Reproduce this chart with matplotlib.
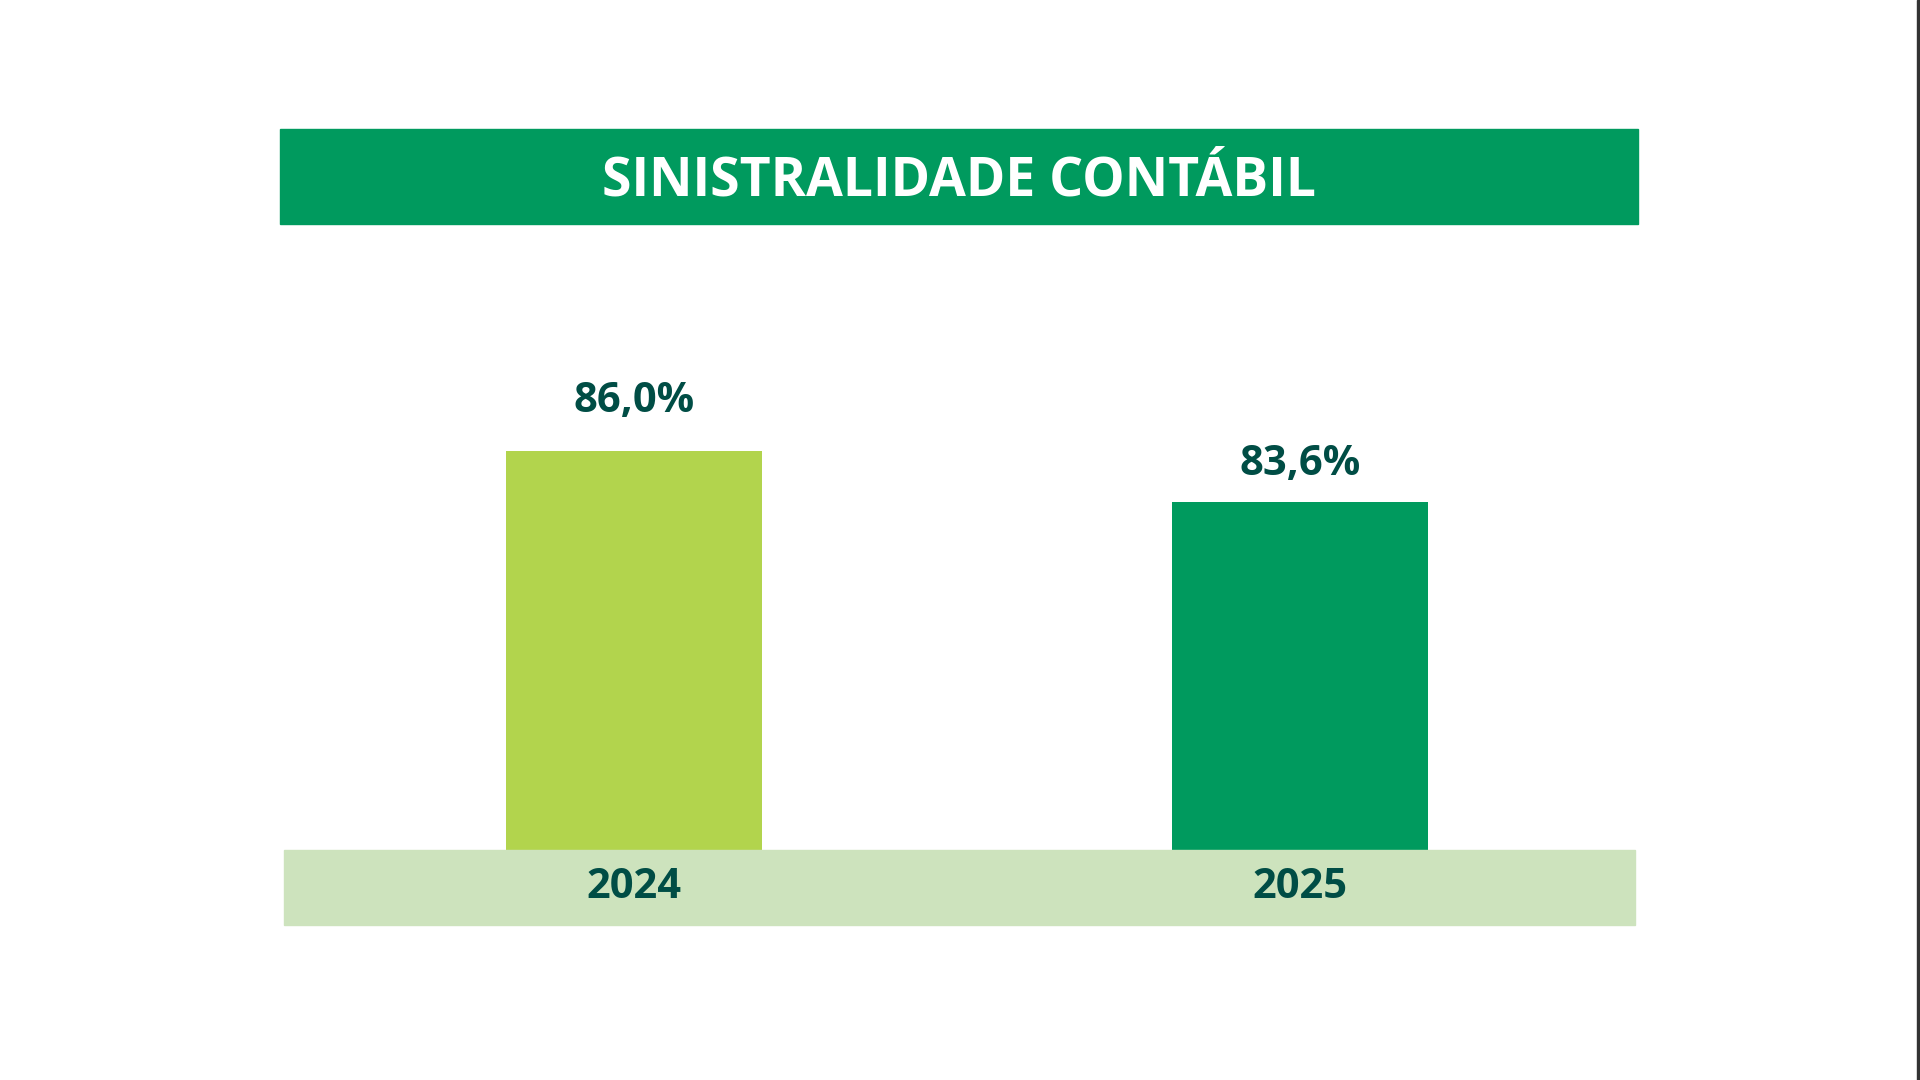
import matplotlib.pyplot as plt
from matplotlib.patches import Rectangle

# Data
years = ['2024', '2025']
values = [86.0, 83.6]
labels = ['86,0%', '83,6%']
bar_colors = ['#B2D44D', '#009A5E']
label_gap = [36, 27]  # points above bar top to label centre

title = 'SINISTRALIDADE CONTÁBIL'
text_color = '#004D45'

plt.rcParams['font.family'] = ['Open Sans', 'DejaVu Sans']

W, H = 1920, 1080
fig = plt.figure(figsize=(19.2, 10.8), dpi=100)
fig.patch.set_facecolor('white')

# title banner
fig.patches.append(Rectangle((280 / W, 1 - 224 / H), (1638 - 280) / W, (224 - 129) / H,
                             transform=fig.transFigure, color='#009A5E', zorder=0))
fig.text((280 + 1638) / 2 / W, 1 - 181 / H, title, ha='center', va='center',
         color='white', fontsize=38.5, fontweight='bold')

# band under bars
fig.patches.append(Rectangle((284 / W, 1 - 925 / H), (1635 - 284) / W, (925 - 850) / H,
                             transform=fig.transFigure, color='#CDE3BD', zorder=0))

# right border line
fig.patches.append(Rectangle((1917 / W, 0), 3 / W, 1, transform=fig.transFigure,
                             color='#333333', zorder=0))

# bar axes
ax = fig.add_axes([284 / W, 1 - 850 / H, (1635 - 284) / W, (850 - 300) / H])
ax.set_facecolor('none')
x = range(len(years))
ax.bar(x, values, width=0.384, color=bar_colors)
ax.set_xlim(-0.5255, 1.503)
base = 67.2
# scale so 86.0 sits at y pixel 451
top_px = 850 - 300
ax.set_ylim(base, base + (86.0 - base) * top_px / (850 - 451))

for i, (v, lab) in enumerate(zip(values, labels)):
    ax.annotate(lab, (i, v), xytext=(0, label_gap[i]), textcoords='offset points',
                ha='center', va='center', color=text_color, fontsize=30, fontweight='bold')

ax.set_axis_off()

# year labels inside the band (figure text so they are not clipped by the axes)
for i, yr in enumerate(years):
    xf = fig.transFigure.inverted().transform(ax.transData.transform((i, base)))[0]
    fig.text(xf, 1 - 888 / H, yr, ha='center', va='center', color=text_color,
             fontsize=30, fontweight='bold')

fig.savefig('out.png', dpi=100)
